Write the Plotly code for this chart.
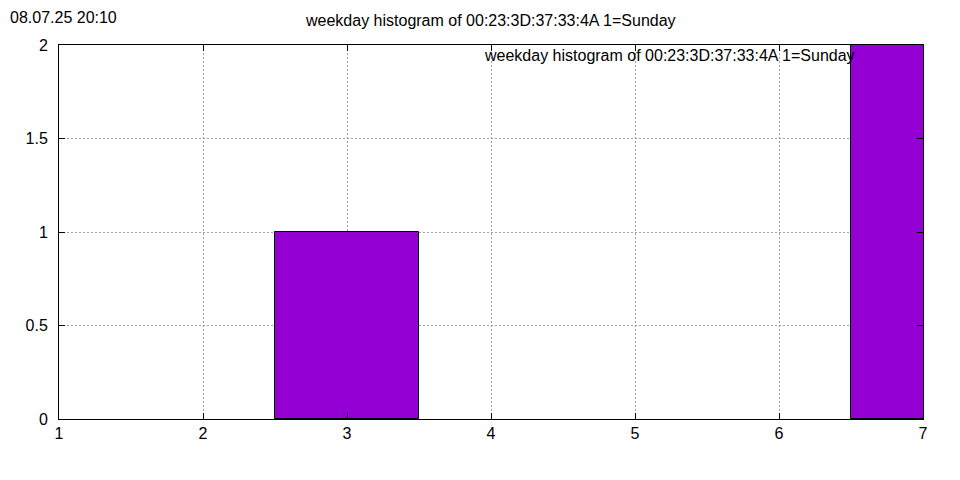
import plotly.graph_objects as go

days = [1, 2, 3, 4, 5, 6, 7]
counts = [0, 0, 1, 0, 0, 0, 2]
title_text = "weekday histogram of 00:23:3D:37:33:4A 1=Sunday"
date_text = "08.07.25 20:10"
x_ticks = [1, 2, 3, 4, 5, 6, 7]
y_ticks = [0, 0.5, 1, 1.5, 2]
y_ticklabels = ["0", "0.5", "1", "1.5", "2"]

# page body has an 8px offset; compensate
OFF = 8
W, H = 960 - OFF, 480 - OFF
L, R, T, B = 59 - OFF, 923 - OFF, 45 - OFF, 419 - OFF
pw, ph = R - L, B - T

def px(x):
    return (x - OFF - L) / pw

def py(y):
    return (B - (y - OFF)) / ph

FONT = "Liberation Sans, Arial, sans-serif"

bx = [d for d, c in zip(days, counts) if c > 0]
by = [c for c in counts if c > 0]

fig = go.Figure()
fig.add_trace(go.Bar(
    x=bx, y=by, width=1,
    marker=dict(color="#9400D3", line=dict(color="black", width=1)),
    showlegend=False,
))

axis_common = dict(
    showline=True, linecolor="black", linewidth=1, mirror="ticks",
    ticks="inside", ticklen=6, tickcolor="black", tickwidth=1,
    showgrid=True, gridcolor="#a0a0a0", griddash="2px,2px", gridwidth=1,
    zeroline=False, tickfont=dict(family=FONT, size=16, color="black"),
)

fig.update_layout(
    width=W, height=H,
    margin=dict(l=L, r=W - R, t=T, b=H - B, pad=0),
    paper_bgcolor="white", plot_bgcolor="white",
    font=dict(family=FONT, size=16, color="black"),
    xaxis=dict(range=[1, 7], tickvals=x_ticks, **axis_common),
    yaxis=dict(range=[0, 2], tickvals=y_ticks, ticktext=y_ticklabels,
               ticklabelstandoff=7, **axis_common),
    bargap=0,
    annotations=[
        dict(text=date_text, xref="paper", yref="paper", x=px(9), y=B / ph,
             xanchor="left", yanchor="top", showarrow=False, borderpad=0,
             font=dict(family=FONT, size=16)),
        dict(text=title_text, xref="paper", yref="paper", x=px(490), y=py(21),
             xanchor="center", yanchor="middle", showarrow=False,
             font=dict(family=FONT, size=16)),
        dict(text=title_text, xref="paper", yref="paper", x=px(857), y=py(55),
             xanchor="right", yanchor="middle", showarrow=False,
             font=dict(family=FONT, size=16)),
    ],
)

fig.write_html("out.html")
